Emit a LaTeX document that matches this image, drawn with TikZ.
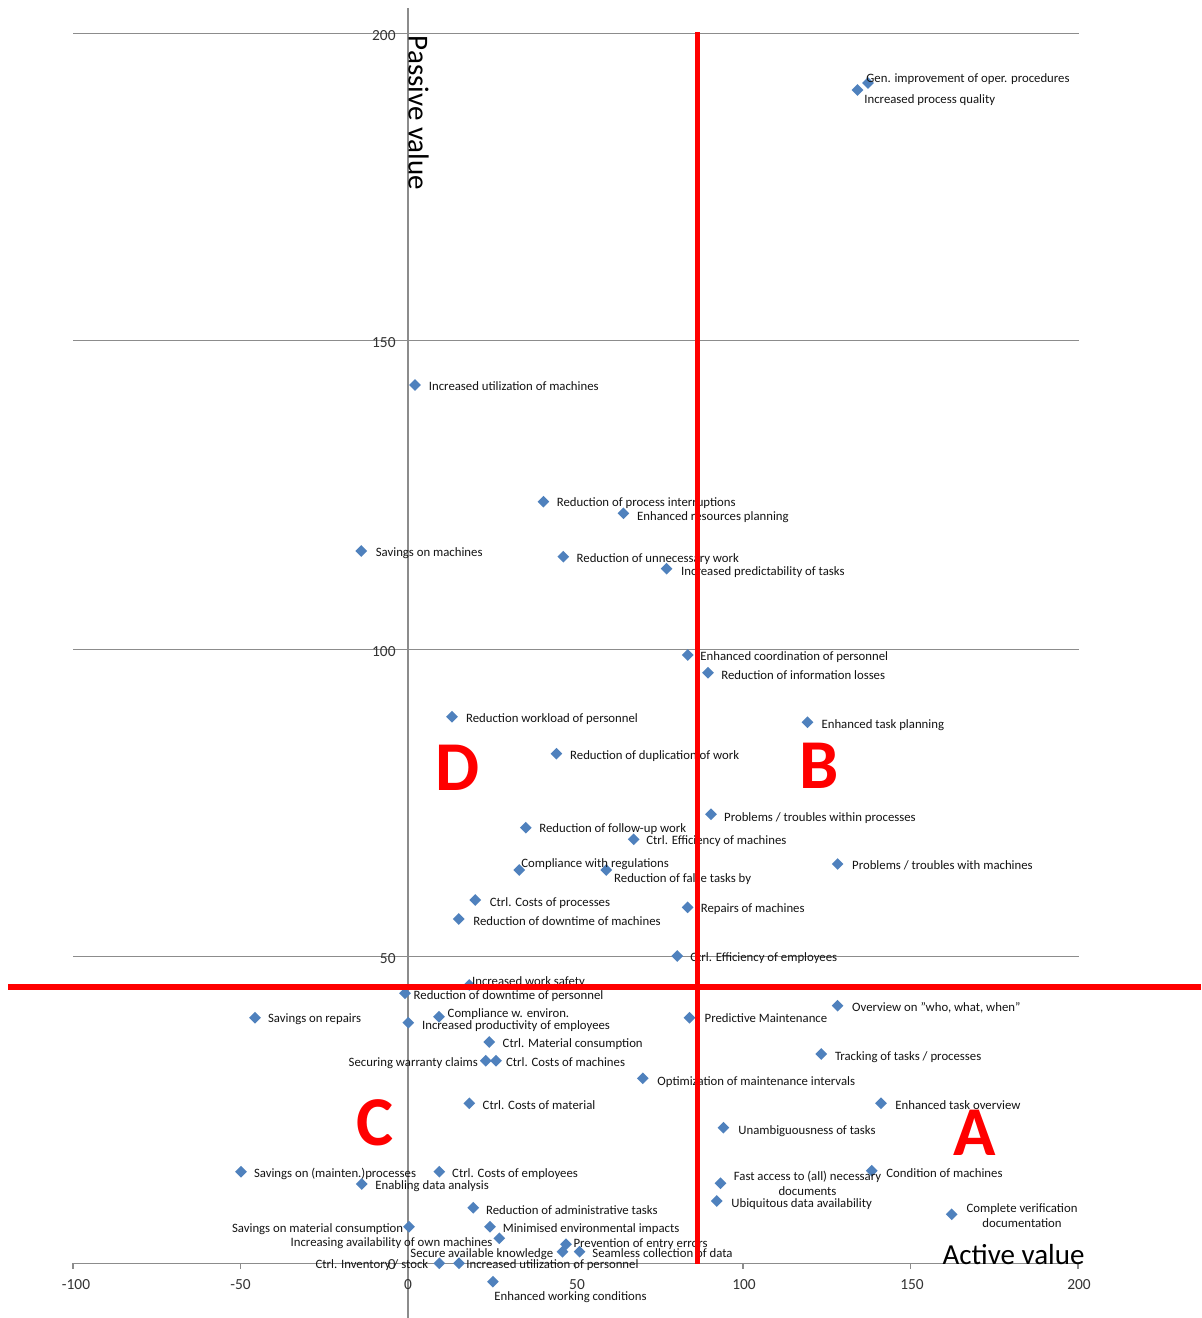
\documentclass[tikz,border=0pt]{standalone}
\usepackage{fontspec}
\setmainfont{Carlito}
\usetikzlibrary{shapes.geometric}
\definecolor{mblue}{HTML}{4F81BD}
\definecolor{gridgray}{HTML}{8C8C8C}
\definecolor{quadred}{HTML}{FF0000}
\begin{document}
\begin{tikzpicture}[x=0.5pt,y=-0.5pt,
  datamark/.style={diamond,fill=mblue,draw=none,inner sep=0pt,minimum width=6pt,minimum height=6pt},
  lbl/.style={anchor=west,inner sep=0pt,text=black!92,font=\fontsize{6.38}{7.5}\selectfont,text height=0.7em,text depth=0.2em},
  lblr/.style={lbl,anchor=east},
  lblc/.style={inner sep=0pt,text=black!92,font=\fontsize{6.38}{7.5}\selectfont,align=center},
  ticklbl/.style={inner sep=0pt,text=black!80,font=\fontsize{7.7}{9}\selectfont},
  axtitle/.style={inner sep=0pt,text=black,font=\fontsize{14.5}{16}\selectfont},
  quad/.style={inner sep=0pt,text=quadred,font=\fontsize{35}{40}\selectfont\bfseries},
  gridline/.style={draw=gridgray,line width=0.65pt},
  divider/.style={draw=quadred,line width=2.7pt}]
\useasboundingbox (0,0) rectangle (1201,1318);
\fill[white] (0,0) rectangle (1201,1318);

% horizontal gridlines at 200, 150, 100, 50 and the category axis at 0
\foreach \gy in {33.3,340.7,649.3,956.7}
  \draw[gridline] (73,\gy) -- (1079,\gy);
\draw[gridline] (73,1263.3) -- (1079,1263.3);
\foreach \gx in {73,240.5,408,575.5,743,910.5,1078}
  \draw[gridline] (\gx,1263.3) -- (\gx,1268.5);
% value axis
\draw[gridline] (408,8) -- (408,1318);

% axis numbers
\node[ticklbl,anchor=east] (y200) at (396,35.5) {200};
\node[ticklbl,anchor=east] (y150) at (396,342.7) {150};
\node[ticklbl,anchor=east] (y100) at (396,651.3) {100};
\node[ticklbl,anchor=east] (y50) at (396,958.7) {50};
\node[ticklbl,anchor=east] (y0) at (396,1265) {0};
\node[ticklbl] (xm100) at (76,1284.3) {-100};
\node[ticklbl] (xm50) at (240.5,1284.3) {-50};
\node[ticklbl] (x0) at (408,1284.3) {0};
\node[ticklbl] (x50) at (577,1284.3) {50};
\node[ticklbl] (x100) at (744,1284.3) {100};
\node[ticklbl] (x150) at (912,1284.3) {150};
\node[ticklbl] (x200) at (1079,1284.3) {200};

% axis titles
\node[axtitle,rotate=-90] (ptitle) at (418.5,113) {Passive value};
\node[axtitle] (atitle) at (1013.5,1255) {Active value};

% data markers
\node[datamark] (m1) at (868,83) {};
\node[datamark] (m2) at (857.5,90) {};
\node[datamark] (m3) at (415,385) {};
\node[datamark] (m4) at (543.4,501.7) {};
\node[datamark] (m5) at (623.4,513.3) {};
\node[datamark] (m6) at (361.2,551) {};
\node[datamark] (m7) at (563.3,556.7) {};
\node[datamark] (m8) at (666.6,568.7) {};
\node[datamark] (m9) at (687.7,655) {};
\node[datamark] (m10) at (708,672.7) {};
\node[datamark] (m11) at (452,716.7) {};
\node[datamark] (m12) at (807.5,722.3) {};
\node[datamark] (m13) at (556.4,753.7) {};
\node[datamark] (m14) at (711,814.3) {};
\node[datamark] (m15) at (525.8,827.7) {};
\node[datamark] (m16) at (633.7,839.3) {};
\node[datamark] (m17) at (519.3,870) {};
\node[datamark] (m18) at (606.2,870) {};
\node[datamark] (m19) at (837.6,864) {};
\node[datamark] (m20) at (475.3,900) {};
\node[datamark] (m21) at (458.8,919) {};
\node[datamark] (m22) at (687.6,907.3) {};
\node[datamark] (m23) at (677.2,956) {};
\node[datamark] (m24) at (469.3,985) {};
\node[datamark] (m25) at (405,993.3) {};
\node[datamark] (m26) at (255,1017.7) {};
\node[datamark] (m27) at (439,1016.7) {};
\node[datamark] (m28) at (408.3,1022.7) {};
\node[datamark] (m29) at (489.3,1042) {};
\node[datamark] (m30) at (485.7,1060.7) {};
\node[datamark] (m31) at (496,1060.7) {};
\node[datamark] (m32) at (642.8,1078.3) {};
\node[datamark] (m33) at (469.3,1103.3) {};
\node[datamark] (m34) at (837.6,1005.7) {};
\node[datamark] (m35) at (689.5,1017.7) {};
\node[datamark] (m36) at (821.2,1054) {};
\node[datamark] (m37) at (881,1103.3) {};
\node[datamark] (m38) at (723.4,1127.7) {};
\node[datamark] (m39) at (871.7,1170.7) {};
\node[datamark] (m40) at (720.5,1183.3) {};
\node[datamark] (m41) at (716.7,1201) {};
\node[datamark] (m42) at (951.7,1214.3) {};
\node[datamark] (m43) at (241,1171.7) {};
\node[datamark] (m44) at (439.3,1171.7) {};
\node[datamark] (m45) at (361.8,1184) {};
\node[datamark] (m46) at (473.2,1207.7) {};
\node[datamark] (m47) at (409,1226.7) {};
\node[datamark] (m48) at (490,1226.7) {};
\node[datamark] (m49) at (499.3,1238.3) {};
\node[datamark] (m50) at (566,1244.3) {};
\node[datamark] (m51) at (562.5,1251.7) {};
\node[datamark] (m52) at (579.6,1251.7) {};
\node[datamark] (m53) at (439.3,1263.3) {};
\node[datamark] (m54) at (459,1263.3) {};
\node[datamark] (m55) at (492.9,1281.7) {};

% data labels
\node[lbl] (t1) at (866,77) {Gen. improvement of oper. procedures};
\node[lbl] (t2) at (864,98.5) {Increased process quality};
\node[lbl] (t3) at (428.5,385.7) {Increased utilization of machines};
\node[lbl] (t4) at (556.4,501.7) {Reduction of process interruptions};
\node[lbl] (t5) at (636.8,515) {Enhanced resources planning};
\node[lbl] (t6) at (375.4,551) {Savings on machines};
\node[lbl] (t7) at (576.3,557) {Reduction of unnecessary work};
\node[lbl] (t8) at (680.8,570) {Increased predictability of tasks};
\node[lbl] (t9) at (700,655.3) {Enhanced coordination of personnel};
\node[lbl] (t10) at (721,674) {Reduction of information losses};
\node[lbl] (t11) at (465.7,717.3) {Reduction workload of personnel};
\node[lbl] (t12) at (821.2,723.3) {Enhanced task planning};
\node[lbl] (t13) at (569.8,754) {Reduction of duplication of work};
\node[lbl] (t14) at (723.8,816) {Problems / troubles within processes};
\node[lbl] (t15) at (539,827.7) {Reduction of follow-up work};
\node[lbl] (t16) at (646,839.3) {Ctrl. Efficiency of machines};
\node[lbl] (t17) at (521,862.7) {Compliance with regulations};
\node[lbl] (t18) at (613.8,877.3) {Reduction of false tasks by};
\node[lbl] (t19) at (851.8,864) {Problems / troubles with machines};
\node[lbl] (t20) at (489.4,901.3) {Ctrl. Costs of processes};
\node[lbl] (t21) at (473,920) {Reduction of downtime of machines};
\node[lbl] (t22) at (700.4,907.3) {Repairs of machines};
\node[lbl] (t23) at (690,956.5) {Ctrl. Efficiency of employees};
\node[lbl] (t24) at (471.7,980) {Increased work safety};
\node[lbl] (t25) at (413.3,994) {Reduction of downtime of personnel};
\node[lbl] (t26) at (267.7,1017.7) {Savings on repairs};
\node[lbl] (t27) at (447.3,1012.7) {Compliance w. environ.};
\node[lbl] (t28) at (421.7,1024.3) {Increased productivity of employees};
\node[lbl] (t29) at (502.3,1042) {Ctrl. Material consumption};
\node[lblr] (t30) at (478.3,1061) {Securing warranty claims};
\node[lbl] (t31) at (505.7,1061) {Ctrl. Costs of machines};
\node[lbl] (t32) at (657,1080) {Optimization of maintenance intervals};
\node[lbl] (t33) at (482.3,1104) {Ctrl. Costs of material};
\node[lbl] (t34) at (851.8,1006) {Overview on "who, what, when"};
\node[lbl] (t35) at (704.3,1017.7) {Predictive Maintenance};
\node[lbl] (t36) at (834.6,1055) {Tracking of tasks / processes};
\node[lbl] (t37) at (895,1104) {Enhanced task overview};
\node[lbl] (t38) at (738,1129) {Unambiguousness of tasks};
\node[lbl] (t39) at (886,1172.3) {Condition of machines};
\node[lblc] (t40) at (807.5,1183.5) {Fast access to (all) necessary\\documents};
\node[lbl] (t41) at (731,1202.7) {Ubiquitous data availability};
\node[lblc] (t42) at (1022,1215.2) {Complete verification\\documentation};
\node[lbl] (t43) at (253.6,1172.3) {Savings on (mainten.)processes};
\node[lbl] (t44) at (451.8,1172.3) {Ctrl. Costs of employees};
\node[lbl] (t45) at (375,1184) {Enabling data analysis};
\node[lbl] (t46) at (485.7,1209) {Reduction of administrative tasks};
\node[lblr] (t47) at (403.6,1227.3) {Savings on material consumption};
\node[lbl] (t48) at (502.5,1227.3) {Minimised environmental impacts};
\node[lblr] (t49) at (492.9,1241.7) {Increasing availability of own machines};
\node[lbl] (t50) at (573.2,1242.7) {Prevention of entry errors};
\node[lblr] (t51) at (553.6,1252) {Secure available knowledge};
\node[lbl] (t52) at (592,1252) {Seamless collection of data};
\node[lblr] (t53) at (428.6,1263) {Ctrl. Inventory / stock};
\node[lbl] (t54) at (466,1263) {Increased utilization of personnel};
\node[lbl] (t55) at (494,1295) {Enhanced working conditions};

% quadrant dividers
\coordinate (vtop) at (697.5,32);
\coordinate (vbot) at (697.5,1263.5);
\coordinate (hleft) at (8,987);
\coordinate (hright) at (1201,987);
\draw[divider] (vtop) -- (vbot);
\draw[divider] (hleft) -- (hright);

% quadrant letters
\node[quad] (qA) at (975,1133) {A};
\node[quad] (qB) at (819,766) {B};
\node[quad] (qC) at (375,1123) {C};
\node[quad] (qD) at (458,768) {D};
\end{tikzpicture}
\end{document}
